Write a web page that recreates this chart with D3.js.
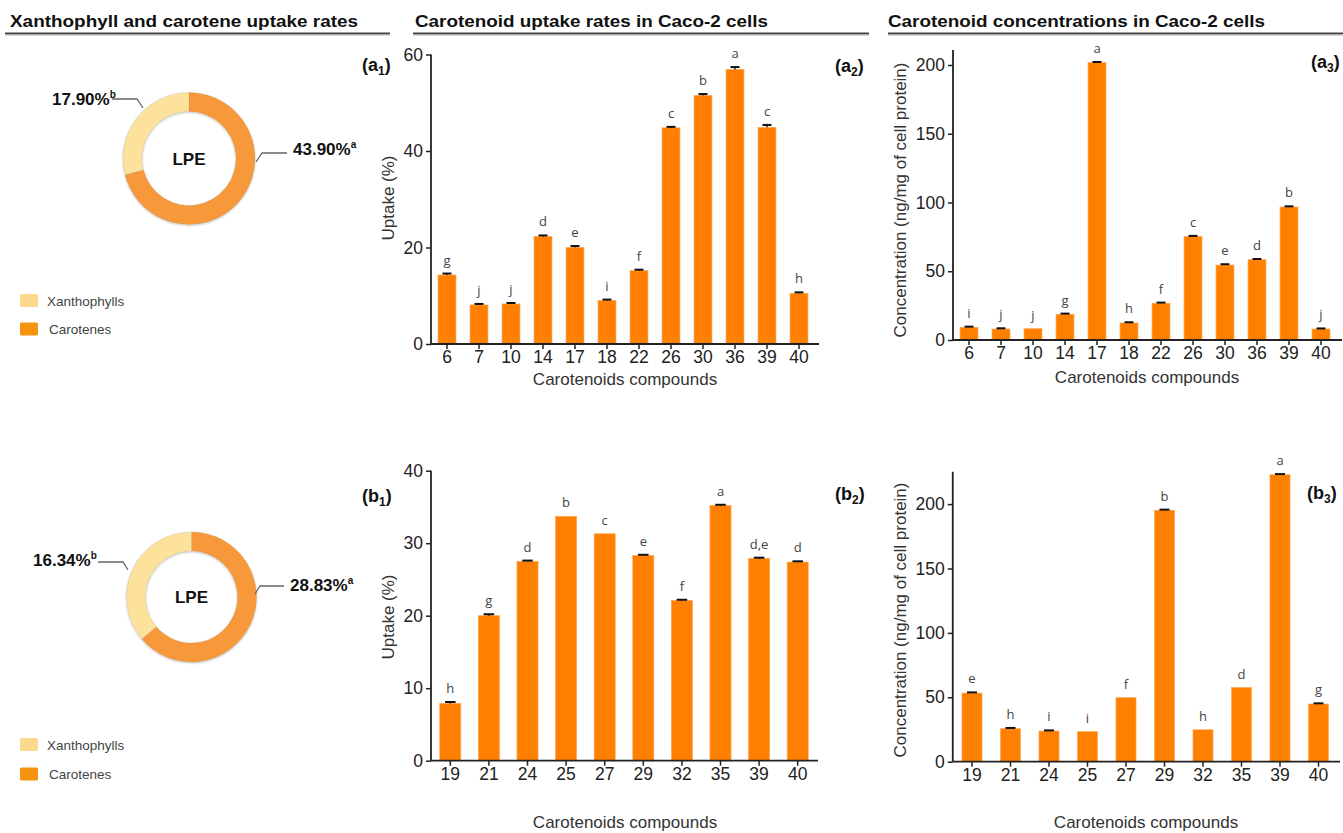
<!DOCTYPE html>
<html>
<head>
<meta charset="utf-8">
<script src="https://cdn.jsdelivr.net/npm/d3@7/dist/d3.min.js"></script>
<style>
  html, body { margin: 0; padding: 0; background: #fff; }
  svg { display: block; }
</style>
</head>
<body>
<svg id="fig" width="1343" height="833"></svg>
<script>
// ---- Data -------------------------------------------------------------
// Donut panels: share of xanthophylls vs carotenes taken up (LPE)
const donutCategories = ["Xanthophylls", "Carotenes"];
const donutA = [17.90, 43.90];
const donutALetters = ["b", "a"];
const donutB = [16.34, 28.83];
const donutBLetters = ["b", "a"];

// Row (a): uptake and concentration per compound
const compoundsA = ["6", "7", "10", "14", "17", "18", "22", "26", "30", "36", "39", "40"];
const uptakeA = [14.3, 8.1, 8.3, 22.3, 20.0, 9.0, 15.2, 44.8, 51.5, 56.9, 44.9, 10.5];
const uptakeAErr = [0.3, 0.2, 0.2, 0.2, 0.3, 0.2, 0.2, 0.2, 0.3, 0.5, 0.5, 0.2];
const uptakeALetters = ["g", "j", "j", "d", "e", "i", "f", "c", "b", "a", "c", "h"];
const concA = [9.2, 8.0, 8.2, 18.7, 201.7, 12.4, 26.7, 75.2, 54.5, 58.4, 96.7, 8.0];
const concAErr = [0.5, 0.5, 0, 0.5, 0.5, 0.5, 0.5, 0.5, 0.6, 0.5, 0.5, 0.4];
const concALetters = ["i", "j", "j", "g", "a", "h", "f", "c", "e", "d", "b", "j"];

// Row (b): uptake and concentration per compound
const compoundsB = ["19", "21", "24", "25", "27", "29", "32", "35", "39", "40"];
const uptakeB = [7.9, 20.0, 27.5, 33.7, 31.3, 28.3, 22.1, 35.2, 27.9, 27.4];
const uptakeBErr = [0.2, 0.2, 0.1, 0, 0, 0.1, 0.1, 0.1, 0.1, 0.1];
const uptakeBLetters = ["h", "g", "d", "b", "c", "e", "f", "a", "d,e", "d"];
const concB = [53.3, 25.6, 23.8, 23.3, 49.7, 195.2, 24.8, 57.5, 222.8, 44.8];
const concBErr = [0.5, 0.6, 0.5, 0, 0, 0.5, 0, 0, 0.5, 0.5];
const concBLetters = ["e", "h", "i", "i", "f", "b", "h", "d", "a", "g"];

// Axis ticks
const uptakeTicksA = [0, 20, 40, 60];
const concTicksA = [0, 50, 100, 150, 200];
const uptakeTicksB = [0, 10, 20, 30, 40];
const concTicksB = [0, 50, 100, 150, 200];

// Headings and axis titles
const headings = ["Xanthophyll and carotene uptake rates", "Carotenoid uptake rates in Caco-2 cells", "Carotenoid concentrations in Caco-2 cells"];
const xTitle = "Carotenoids compounds";
const uptakeTitle = "Uptake (%)";
const concTitle = "Concentration (ng/mg of cell protein)";

// ---- Drawing ----------------------------------------------------------
const svg = d3.select("#fig");
const SANS = "'Liberation Sans', Arial, sans-serif";
const LETTER_FONT = "'Open Sans', 'Noto Sans', sans-serif";
const BAR = "#ff7f00";

// Section headings with underline rules
const headingLayout = [
  { x: 10, len: 348, rule: [5, 390] },
  { x: 415, len: 353, rule: [413, 869] },
  { x: 888, len: 377, rule: [888, 1343] }
];
headings.forEach((t, i) => {
  const h = headingLayout[i];
  svg.append("text").attr("x", h.x).attr("y", 27)
    .attr("font-family", SANS).attr("font-weight", "bold").attr("font-size", 16.5)
    .attr("fill", "#111").attr("textLength", h.len).attr("lengthAdjust", "spacingAndGlyphs")
    .text(t);
  svg.append("line").attr("x1", h.rule[0]).attr("x2", h.rule[1]).attr("y1", 33.5).attr("y2", 33.5)
    .attr("stroke", "#444").attr("stroke-width", 2);
  svg.append("line").attr("x1", h.rule[0]).attr("x2", h.rule[1]).attr("y1", 35.2).attr("y2", 35.2)
    .attr("stroke", "#bbb").attr("stroke-width", 0.8);
});

// Panel tags like (a1)
function panelTag(x, y, letter, idx) {
  const t = svg.append("text").attr("x", x).attr("y", y)
    .attr("font-family", SANS).attr("font-weight", "bold").attr("font-size", 18).attr("fill", "#111");
  t.append("tspan").text("(" + letter);
  t.append("tspan").attr("dy", 4).attr("font-size", 12).text(idx);
  t.append("tspan").attr("dy", -4).text(")");
}
panelTag(362, 71, "a", "1");
panelTag(835, 72, "a", "2");
panelTag(1311, 68, "a", "3");
panelTag(362, 502, "b", "1");
panelTag(835, 500, "b", "2");
panelTag(1307, 499, "b", "3");

// Drop shadow for donuts
const defs = svg.append("defs");
const f = defs.append("filter").attr("id", "dshadow").attr("x", "-20%").attr("y", "-20%").attr("width", "140%").attr("height", "140%");
f.append("feDropShadow").attr("dx", 0).attr("dy", 1).attr("stdDeviation", 1.2)
  .attr("flood-color", "#000").attr("flood-opacity", 0.25);

const donutColors = { "Xanthophylls": "#fde29b", "Carotenes": "#f7983a" };
const legendColors = { "Xanthophylls": "#fdd98e", "Carotenes": "#f7940f" };

function drawDonut(cfg) {
  const g = svg.append("g").attr("transform", `translate(${cfg.cx},${cfg.cy})`);
  // carotenes start at 12 o'clock and run clockwise, xanthophylls close the ring
  const entries = donutCategories.map((c, i) => ({ cat: c, v: cfg.values[i], letter: cfg.letters[i] }));
  const ordered = [entries[1], entries[0]];
  const pie = d3.pie().sort(null).value(d => d.v);
  const arc = d3.arc().innerRadius(cfg.r0).outerRadius(cfg.r1);
  g.append("g").attr("filter", "url(#dshadow)")
    .selectAll("path").data(pie(ordered)).join("path")
    .attr("d", arc).attr("fill", d => donutColors[d.data.cat])
    .attr("stroke", "rgba(120,120,120,0.25)").attr("stroke-width", 0.6);
  g.append("text").attr("x", 0).attr("y", 6).attr("text-anchor", "middle")
    .attr("font-family", SANS).attr("font-weight", "bold").attr("font-size", 17).attr("fill", "#111")
    .text("LPE");

  // value labels with leader lines
  cfg.labels.forEach((L, i) => {
    const e = entries[i];
    svg.append("polyline").attr("points", L.line.map(p => p.join(",")).join(" "))
      .attr("fill", "none").attr("stroke", "#666").attr("stroke-width", 1.3);
    const t = svg.append("text").attr("x", L.x).attr("y", L.y).attr("text-anchor", L.anchor)
      .attr("font-family", SANS).attr("font-weight", "bold").attr("font-size", 17).attr("fill", "#111");
    t.append("tspan").text(e.v.toFixed(2) + "%");
    t.append("tspan").attr("dy", -7).attr("font-size", 10).text(e.letter);
  });

  // legend
  donutCategories.forEach((c, i) => {
    const y = cfg.legendY[i];
    svg.append("rect").attr("x", 20).attr("y", y - 6.5).attr("width", 18).attr("height", 13)
      .attr("rx", 1.5).attr("fill", legendColors[c]);
    svg.append("text").attr("x", c === "Carotenes" ? 49 : 47).attr("y", y + 5)
      .attr("font-family", SANS).attr("font-size", 13.5).attr("fill", "#444")
      .text(c);
  });
}

drawDonut({
  cx: 189, cy: 158.5, r0: 47, r1: 66, values: donutA, letters: donutALetters,
  labels: [
    { x: 52, y: 105, anchor: "start", line: [[112, 99], [137, 99], [143, 108]] },
    { x: 293, y: 155, anchor: "start", line: [[256, 162], [262, 153], [287, 153]] }
  ],
  legendY: [300.5, 329]
});
drawDonut({
  cx: 191.5, cy: 597, r0: 46, r1: 65, values: donutB, letters: donutBLetters,
  labels: [
    { x: 33, y: 566, anchor: "start", line: [[98, 562], [123, 562], [128, 570]] },
    { x: 290, y: 591, anchor: "start", line: [[255, 594], [260, 586], [284, 586]] }
  ],
  legendY: [744.5, 774]
});

// Bar chart with error caps and significance letters
function drawBars(cfg) {
  const g = svg.append("g");
  const x = d3.scaleBand().domain(cfg.categories).range(cfg.xRange)
    .paddingInner(cfg.pad).paddingOuter(cfg.pad / 2);
  const y = d3.scaleLinear().domain([0, cfg.yMax]).range(cfg.yRange);
  const rows = cfg.categories.map((c, i) => ({ c, v: cfg.values[i], e: cfg.errs[i], l: cfg.letters[i] }));

  g.selectAll("rect.bar").data(rows).join("rect").attr("class", "bar")
    .attr("x", d => x(d.c)).attr("width", x.bandwidth())
    .attr("y", d => y(d.v)).attr("height", d => y(0) - y(d.v))
    .attr("fill", BAR).attr("stroke", "#ffa54d").attr("stroke-width", 0.7);

  const cap = x.bandwidth() * 0.5;
  const eg = g.selectAll("g.err").data(rows.filter(d => d.e > 0)).join("g").attr("class", "err");
  eg.append("line")
    .attr("x1", d => x(d.c) + x.bandwidth() / 2).attr("x2", d => x(d.c) + x.bandwidth() / 2)
    .attr("y1", d => y(d.v)).attr("y2", d => y(d.v + d.e))
    .attr("stroke", "#111").attr("stroke-width", 1.4);
  eg.append("line")
    .attr("x1", d => x(d.c) + x.bandwidth() / 2 - cap / 2).attr("x2", d => x(d.c) + x.bandwidth() / 2 + cap / 2)
    .attr("y1", d => y(d.v + d.e)).attr("y2", d => y(d.v + d.e))
    .attr("stroke", "#111").attr("stroke-width", 2);

  g.selectAll("text.sig").data(rows).join("text").attr("class", "sig")
    .attr("x", d => x(d.c) + x.bandwidth() / 2).attr("y", d => y(d.v + d.e) - 9)
    .attr("text-anchor", "middle").attr("font-family", LETTER_FONT).attr("font-size", 13)
    .attr("fill", "#444").text(d => d.l);

  // axes
  const yAxis = g.append("g").attr("transform", `translate(${cfg.xRange[0]},0)`)
    .call(d3.axisLeft(y).tickValues(cfg.ticks).tickSize(5).tickPadding(3).tickSizeOuter(0));
  yAxis.select(".domain").attr("d", `M0,${y(0)}V${cfg.axisTop}`);
  const xAxis = g.append("g").attr("transform", `translate(0,${y(0)})`)
    .call(d3.axisBottom(x).tickSize(5).tickPadding(2).tickSizeOuter(0));
  xAxis.select(".domain").attr("d", `M${cfg.xRange[0]},0H${cfg.axisRight}`);
  [yAxis, xAxis].forEach(a => {
    a.select(".domain").attr("stroke", "#222").attr("stroke-width", 1.8);
    a.selectAll(".tick line").attr("stroke", "#222").attr("stroke-width", 1.5);
    a.selectAll(".tick text").attr("font-family", SANS).attr("font-size", 17.5).attr("fill", "#222");
  });

  svg.append("text").attr("transform", `translate(${cfg.yTitleX},${cfg.yTitleY}) rotate(-90)`)
    .attr("text-anchor", "middle").attr("font-family", SANS).attr("font-size", 17).attr("fill", "#333")
    .text(cfg.yTitle);
  svg.append("text").attr("x", cfg.xTitleX).attr("y", cfg.xTitleY).attr("text-anchor", "middle")
    .attr("font-family", SANS).attr("font-size", 17).attr("fill", "#333").text(xTitle);
}

drawBars({
  categories: compoundsA, values: uptakeA, errs: uptakeAErr, letters: uptakeALetters,
  xRange: [431, 815], pad: 0.44, yMax: 60, yRange: [344, 54.5], ticks: uptakeTicksA,
  axisTop: 54.5, axisRight: 819, yTitle: uptakeTitle, yTitleX: 394, yTitleY: 198,
  xTitleX: 625, xTitleY: 385
});
drawBars({
  categories: compoundsA, values: concA, errs: concAErr, letters: concALetters,
  xRange: [953, 1337], pad: 0.44, yMax: 200, yRange: [340, 65], ticks: concTicksA,
  axisTop: 50, axisRight: 1342, yTitle: concTitle, yTitleX: 906, yTitleY: 200,
  xTitleX: 1147, xTitleY: 383
});
drawBars({
  categories: compoundsB, values: uptakeB, errs: uptakeBErr, letters: uptakeBLetters,
  xRange: [431, 817], pad: 0.455, yMax: 40, yRange: [760.7, 470.7], ticks: uptakeTicksB,
  axisTop: 470.7, axisRight: 818, yTitle: uptakeTitle, yTitleX: 394, yTitleY: 617,
  xTitleX: 625, xTitleY: 828
});
drawBars({
  categories: compoundsB, values: concB, errs: concBErr, letters: concBLetters,
  xRange: [952.75, 1337.75], pad: 0.48, yMax: 200, yRange: [761.7, 504.1], ticks: concTicksB,
  axisTop: 471.7, axisRight: 1340, yTitle: concTitle, yTitleX: 906, yTitleY: 620,
  xTitleX: 1146, xTitleY: 828
});
</script>
</body>
</html>
